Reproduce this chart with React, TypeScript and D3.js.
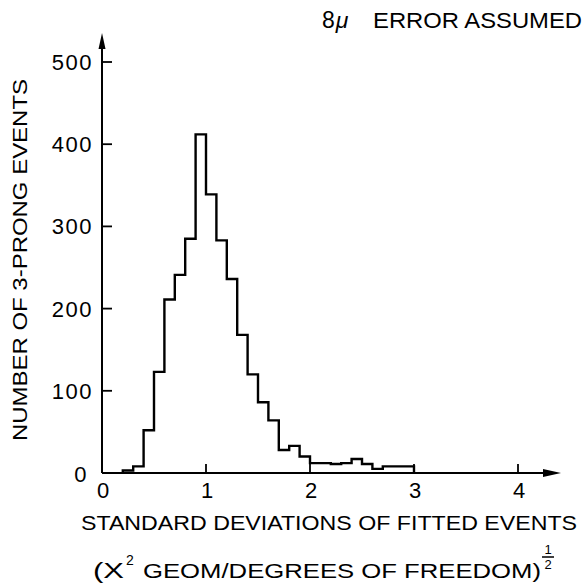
import React from "react";
import * as d3 from "d3";

// Histogram: bins of width 0.1 starting at 0.2
const binStarts = [0.2,0.3,0.4,0.5,0.6,0.7,0.8,0.9,1.0,1.1,1.2,1.3,1.4,1.5,1.6,1.7,1.8,1.9,2.0,2.1,2.2,2.3,2.4,2.5,2.6,2.7,2.8,2.9];
const counts = [3,8,52,123,211,241,285,412,339,283,236,168,120,86,64,28,33,20,12,12,11,12,17,11,5,8,8,8];
const binWidth = 0.1;
const xTicks = [0, 1, 2, 3, 4];
const xTickLabels = ["0", "1", "2", "3", "4"];
const yTicks = [0, 100, 200, 300, 400, 500];
const yTickLabels = ["0", "100", "200", "300", "400", "500"];

const W = 587, H = 586;
const FONT = "'Liberation Sans', Arial, Helvetica, sans-serif";

export default function App() {
  const x = d3.scaleLinear().domain([0, 4]).range([102, 518]);
  const y = d3.scaleLinear().domain([0, 500]).range([473, 62]);

  // step path
  const pts: [number, number][] = [];
  pts.push([x(binStarts[0]), y(0)]);
  binStarts.forEach((b, i) => {
    pts.push([x(b), y(counts[i])]);
    pts.push([x(b + binWidth), y(counts[i])]);
  });
  pts.push([x(binStarts[binStarts.length - 1] + binWidth), y(0)]);
  const path = d3.line()(pts) as string;

  const x0 = x(0), y0 = y(0);
  const yTop = 33, xRight = 561;

  return (
    <svg width={W} height={H} style={{ position: "absolute", left: 0, top: 0, background: "#fff" }}
      fontFamily={FONT}>
      <rect x={0} y={0} width={W} height={H} fill="#fff" />
      {/* axes */}
      <line x1={x0} y1={y0} x2={x0} y2={yTop + 8} stroke="#000" strokeWidth={2} />
      <path d={`M${x0},${yTop} L${x0 - 3.5},${yTop + 16} L${x0 + 3.5},${yTop + 16} Z`} fill="#000" />
      <line x1={x0} y1={y0} x2={xRight - 8} y2={y0} stroke="#000" strokeWidth={2} />
      <path d={`M${xRight},${y0} L${xRight - 18},${y0 - 4} L${xRight - 18},${y0 + 4} Z`} fill="#000" />

      {/* y ticks */}
      {yTicks.filter(t => t > 0).map(t => (
        <line key={"yt" + t} x1={x0} x2={x0 + 10} y1={y(t)} y2={y(t)} stroke="#000" strokeWidth={1.8} />
      ))}
      {yTicks.map((t, i) => (
        <text key={"yl" + t} x={t === 0 ? 88 : 93} y={t === 0 ? y(t) + 8.5 : y(t) + 8} textAnchor="end"
          fontSize={22} letterSpacing={1.5}>{yTickLabels[i]}</text>
      ))}

      {/* x ticks */}
      {xTicks.filter(t => t > 0).map(t => (
        <line key={"xt" + t} x1={x(t)} x2={x(t)} y1={y0} y2={y0 - 9} stroke="#000" strokeWidth={1.8} />
      ))}
      {xTicks.map((t, i) => (
        <text key={"xl" + t} x={x(t) + 1} y={498} textAnchor="middle" fontSize={22}>{xTickLabels[i]}</text>
      ))}

      {/* histogram */}
      <path d={path} fill="none" stroke="#000" strokeWidth={2.4} strokeLinejoin="miter" />

      {/* title */}
      <text x={322} y={28} fontSize={23}>8<tspan fontStyle="italic" dx={1}>μ</tspan></text>
      <text x={373} y={28} fontSize={22} textLength={209} lengthAdjust="spacingAndGlyphs">ERROR ASSUMED</text>

      {/* y axis title */}
      <text transform="translate(27,260) rotate(-90)" textAnchor="middle" fontSize={21}
        textLength={362} lengthAdjust="spacingAndGlyphs">NUMBER OF 3-PRONG EVENTS</text>

      {/* x axis title */}
      <text x={81} y={530} fontSize={21} textLength={496} lengthAdjust="spacingAndGlyphs">STANDARD DEVIATIONS OF FITTED EVENTS</text>
      <text x={93} y={578} fontSize={22} textLength={31} lengthAdjust="spacingAndGlyphs">(Χ</text>
      <text x={126} y={565} fontSize={14}>2</text>
      <text x={143} y={578} fontSize={21} textLength={398} lengthAdjust="spacingAndGlyphs">GEOM/DEGREES OF FREEDOM)</text>
      <text x={548} y={554} fontSize={13} textAnchor="middle">1</text>
      <line x1={542} x2={554} y1={557} y2={557} stroke="#000" strokeWidth={1.5} />
      <text x={548} y={569} fontSize={13} textAnchor="middle">2</text>
    </svg>
  );
}
